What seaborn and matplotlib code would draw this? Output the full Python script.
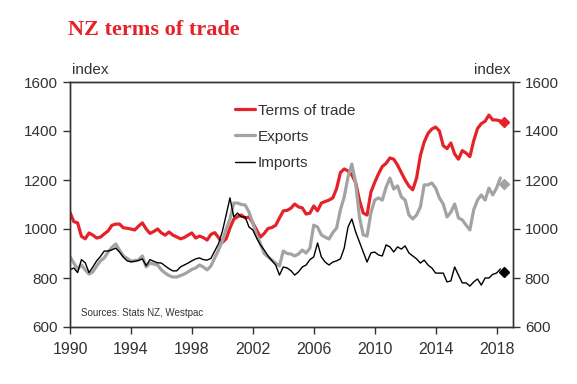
import numpy as np
import seaborn as sns
import matplotlib.pyplot as plt

# quarterly index values, 1990Q1 .. 2018Q2
terms_of_trade = [
    1068, 1030, 1025, 970,
    960, 984, 975, 963,
    967, 980, 992, 1015,
    1020, 1020, 1005, 1003,
    1000, 996, 1012, 1025,
    1000, 982, 990, 1000,
    984, 975, 988, 975,
    968, 960, 965, 975,
    984, 963, 971, 965,
    955, 978, 985, 965,
    945, 960, 1004, 1040,
    1050, 1057, 1045, 1049,
    1025, 996, 967, 982,
    1002, 1006, 1015, 1045,
    1074, 1076, 1085, 1102,
    1090, 1086, 1061, 1065,
    1094, 1074, 1106, 1112,
    1118, 1127, 1165, 1230,
    1245, 1237, 1221, 1190,
    1118, 1065, 1057, 1150,
    1190, 1225, 1255, 1268,
    1290, 1285, 1261, 1230,
    1200, 1175, 1160, 1208,
    1300, 1355, 1390, 1408,
    1416, 1400, 1340, 1328,
    1351, 1306, 1285, 1320,
    1310, 1295, 1360, 1410,
    1430, 1440, 1465, 1445,
    1445, 1441,
]
exports = [
    887, 861, 837, 853,
    833, 816, 825, 849,
    870, 882, 906, 925,
    939, 914, 890, 880,
    869, 871, 873, 890,
    845, 861, 857, 853,
    833, 820, 810, 804,
    804, 810, 816, 825,
    835, 841, 853, 845,
    833, 849, 882, 914,
    950, 1000, 1041, 1106,
    1106, 1100, 1098, 1069,
    1025, 975, 940, 900,
    886, 873, 861, 849,
    910, 900, 898, 890,
    898, 914, 902, 922,
    1016, 1008, 976, 967,
    959, 985, 1004, 1078,
    1131, 1212, 1265, 1188,
    1049, 976, 971, 1065,
    1118, 1127, 1118, 1171,
    1208, 1163, 1176, 1131,
    1118, 1057, 1041, 1057,
    1090, 1180, 1180, 1188,
    1167, 1127, 1102, 1049,
    1069, 1102, 1045, 1037,
    1016, 996, 1078, 1118,
    1139, 1118, 1167, 1139,
    1167, 1208,
]
imports = [
    833, 841, 822, 875,
    862, 822, 845, 870,
    888, 910, 910, 915,
    922, 906, 885, 870,
    866, 868, 872, 878,
    850, 875, 868, 862,
    861, 849, 838, 829,
    829, 845, 853, 861,
    870, 878, 882, 875,
    873, 880, 910, 940,
    990, 1057, 1127, 1049,
    1065, 1049, 1049, 1008,
    996, 963, 935, 914,
    890, 871, 853, 812,
    845, 841, 830, 812,
    825, 845, 853, 875,
    886, 943, 886, 865,
    853, 865, 870, 878,
    922, 1008, 1041, 988,
    947, 906, 865, 902,
    906, 894, 890, 935,
    927, 906, 927, 918,
    931, 902, 890, 878,
    861, 873, 853, 841,
    820, 820, 820, 784,
    788, 845, 812, 780,
    780, 767, 784, 796,
    771, 800, 800, 815,
    820, 837,
]
years = 1990 + 0.25 * np.arange(len(terms_of_trade))

# latest quarter, shown as diamonds
latest_year = 2018.5
latest_tot, latest_exp, latest_imp = 1435, 1184, 826

x_ticks = [1990, 1994, 1998, 2002, 2006, 2010, 2014, 2018]
y_ticks = [600, 800, 1000, 1200, 1400, 1600]

RED = '#e5222a'
GREY = '#a3a3a3'
TXT = '#333333'

sns.set_style('ticks')
plt.rcParams['font.family'] = ['Liberation Sans', 'DejaVu Sans']

fig = plt.figure(figsize=(5.77, 3.84), dpi=100)
ax = fig.add_axes([70 / 577, 1 - 327 / 384, 443 / 577, 245 / 384])

sns.lineplot(x=years, y=terms_of_trade, ax=ax, color=RED, lw=2.3, label='Terms of trade')
sns.lineplot(x=years, y=exports, ax=ax, color=GREY, lw=2.3, label='Exports')
sns.lineplot(x=years, y=imports, ax=ax, color='black', lw=1.0, label='Imports')
ax.plot([latest_year], [latest_tot], 'D', color=RED, ms=5)
ax.plot([latest_year], [latest_exp], 'D', color=GREY, ms=5)
ax.plot([latest_year], [latest_imp], 'D', color='black', ms=5)

ax.set_xlim(1990, 2019.08)
ax.set_ylim(600, 1600)
ax.set_xticks(x_ticks)
ax.set_yticks(y_ticks)
ax.tick_params(axis='both', labelsize=11, colors=TXT, length=5, width=1)
ax.tick_params(axis='x', pad=6, labelsize=11.5)
for s in ax.spines.values():
    s.set_color(TXT)
    s.set_linewidth(1)

ax2 = ax.twinx()
ax2.set_ylim(600, 1600)
ax2.set_yticks(y_ticks)
ax2.tick_params(axis='y', labelsize=11, colors=TXT, length=5, width=1)
for s in ax2.spines.values():
    s.set_color(TXT)
    s.set_linewidth(1)

leg = ax.legend(loc='upper left', bbox_to_anchor=(0.372, 0.912), frameon=False,
                fontsize=11, handlelength=1.3, handletextpad=0.2,
                labelspacing=0.8, borderpad=0, borderaxespad=0)
for t in leg.get_texts():
    t.set_color(TXT)

fig.text(68 / 577, 1 - 35 / 384, 'NZ terms of trade', color=RED, fontsize=16,
         fontweight='bold', family='Liberation Serif')
ax.text(0.005, 1.02, 'index', transform=ax.transAxes, fontsize=11, color=TXT,
        ha='left', va='bottom')
ax.text(0.995, 1.02, 'index', transform=ax.transAxes, fontsize=11, color=TXT,
        ha='right', va='bottom')
ax.text(0.025, 0.035, 'Sources: Stats NZ, Westpac', transform=ax.transAxes,
        fontsize=7, color=TXT, ha='left', va='bottom')

fig.savefig('out.png', dpi=100)
